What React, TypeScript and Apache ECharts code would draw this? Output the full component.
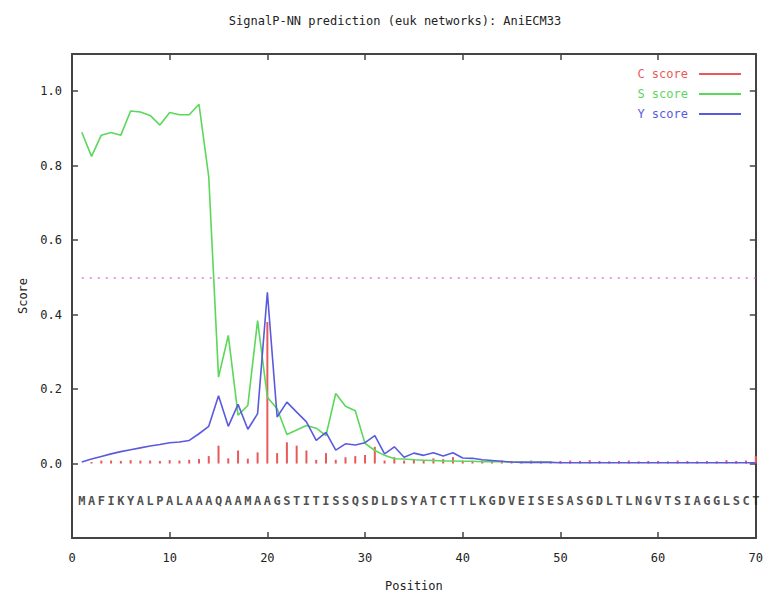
import React, { useEffect, useRef } from "react";
import * as echarts from "echarts";

const titleText = "SignalP-NN prediction (euk networks): AniECM33";
const sequence = "MAFIKYALPALAAAQAAMAAGSTITISSQSDLDSYATCTTLKGDVEISESASGDLTLNGVTSIAGGLSCT";
const xTicks = [0, 10, 20, 30, 40, 50, 60, 70];
const yTickLabels = ["0.0", "0.2", "0.4", "0.6", "0.8", "1.0"];

const cScore = [
  0, 0.004, 0.008, 0.008, 0.007, 0.009, 0.008, 0.008, 0.007, 0.009,
  0.008, 0.01, 0.012, 0.02, 0.048, 0.014, 0.035, 0.013, 0.03, 0.38,
  0.028, 0.057, 0.048, 0.035, 0.01, 0.028, 0.01, 0.017, 0.02, 0.023,
  0.045, 0.008, 0.017, 0.008, 0.012, 0.008, 0.014, 0.012, 0.017, 0.008,
  0.007, 0.008, 0.006, 0.008, 0.007, 0.006, 0.008, 0.007, 0.006, 0.007,
  0.008, 0.007, 0.009, 0.007, 0.006, 0.007, 0.008, 0.006, 0.007, 0.007,
  0.006, 0.008, 0.007, 0.006, 0.007, 0.006, 0.009, 0.007, 0.008, 0.02,
];

const sScore = [
  0.89, 0.825, 0.882, 0.889, 0.882, 0.947, 0.944, 0.935, 0.909, 0.943,
  0.937, 0.937, 0.965, 0.77, 0.232, 0.344, 0.13, 0.156, 0.384, 0.178,
  0.147, 0.078, 0.09, 0.102, 0.095, 0.075, 0.188, 0.154, 0.142, 0.054,
  0.035, 0.022, 0.013, 0.012, 0.01, 0.009, 0.008, 0.007, 0.007, 0.006,
  0.006, 0.005, 0.005, 0.005, 0.004, 0.004, 0.004, 0.004, 0.004,
];

const yScore = [
  0.004, 0.012, 0.019, 0.026, 0.032, 0.037, 0.042, 0.047, 0.051, 0.056,
  0.058, 0.062, 0.08, 0.1, 0.182, 0.1, 0.159, 0.092, 0.134, 0.46,
  0.125, 0.165, 0.138, 0.112, 0.062, 0.084, 0.036, 0.053, 0.05, 0.056,
  0.075, 0.026, 0.045, 0.017, 0.028, 0.022, 0.029, 0.02, 0.029, 0.015,
  0.014, 0.01, 0.008, 0.006, 0.004, 0.003, 0.003, 0.003, 0.003, 0.002,
  0.002, 0.002, 0.002, 0.002, 0.002, 0.002, 0.002, 0.002, 0.002, 0.002,
  0.002, 0.002, 0.002, 0.002, 0.002, 0.002, 0.002, 0.002, 0.002, 0.002,
];

const threshold = 0.5;
const seqRow = -0.1;

const RED = "#e85a5a";
const GREEN = "#5ad85a";
const BLUE = "#5a5ade";
const AXIS = "#444";
const MONO = "'DejaVu Sans Mono', monospace";

export default function App() {
  const ref = useRef<HTMLDivElement>(null);
  useEffect(() => {
    if (!ref.current) return;
    const chart = echarts.init(ref.current, undefined, { renderer: "svg" });
    const fmtY = (v: number) => {
      const s = (Math.round(v * 10) / 10).toFixed(1);
      return yTickLabels.indexOf(s) >= 0 ? s : "";
    };
    const axisCommon = {
      axisLine: { show: true, onZero: false, lineStyle: { color: AXIS, width: 2 } },
      axisTick: { show: true, inside: true, length: 6, lineStyle: { color: AXIS, width: 1.5 } },
      splitLine: { show: false },
    };
    const option: any = {
      animation: false,
      title: {
        text: titleText,
        left: 390,
        top: 10,
        textAlign: "center",
        textStyle: { fontFamily: MONO, fontSize: 12, fontWeight: "normal", color: "#222" },
      },
      legend: {
        orient: "vertical",
        right: 20,
        top: 62,
        align: "right",
        itemWidth: 42,
        itemHeight: 2,
        itemGap: 6,
        icon: "rect",
        selectedMode: false,
        textStyle: { fontFamily: MONO, fontSize: 12, lineHeight: 14, padding: [0, 6, 0, 0] },
        data: [
          { name: "C score", textStyle: { color: RED } },
          { name: "S score", textStyle: { color: GREEN } },
          { name: "Y score", textStyle: { color: BLUE } },
        ],
      },
      grid: { left: 72, right: 6, top: 54, bottom: 57 },
      xAxis: [
        {
          type: "value",
          min: xTicks[0],
          max: xTicks[xTicks.length - 1],
          interval: 10,
          position: "bottom",
          ...axisCommon,
          axisLabel: { margin: 14, fontFamily: MONO, fontSize: 12, color: "#222" },
          name: "Position",
          nameLocation: "middle",
          nameGap: 42,
          nameTextStyle: { fontFamily: MONO, fontSize: 12, color: "#222" },
        },
        {
          type: "value",
          min: xTicks[0],
          max: xTicks[xTicks.length - 1],
          interval: 10,
          position: "top",
          ...axisCommon,
          axisLabel: { show: false },
        },
      ],
      yAxis: [
        {
          type: "value",
          min: -0.2,
          max: 1.1,
          interval: 0.2,
          position: "left",
          ...axisCommon,
          axisLabel: { margin: 10, fontFamily: MONO, fontSize: 12, color: "#222", formatter: fmtY, showMaxLabel: false },
          name: "Score",
          nameLocation: "middle",
          nameGap: 37,
          nameTextStyle: { fontFamily: MONO, fontSize: 12, color: "#222" },
        },
        {
          type: "value",
          min: -0.2,
          max: 1.1,
          interval: 0.2,
          position: "right",
          ...axisCommon,
          axisLabel: { show: false },
        },
      ],
      series: [
        {
          name: "C score",
          type: "bar",
          xAxisIndex: 0,
          yAxisIndex: 0,
          barWidth: 2,
          itemStyle: { color: RED },
          data: cScore.map((v, i) => [i + 1, v]),
        },
        {
          name: "S score",
          type: "line",
          xAxisIndex: 0,
          yAxisIndex: 0,
          symbol: "none",
          itemStyle: { color: GREEN },
          lineStyle: { color: GREEN, width: 1.6 },
          data: sScore.map((v, i) => [i + 1, v]),
          markLine: {
            silent: true,
            symbol: "none",
            label: { show: false },
            lineStyle: { color: "#e060e0", type: [2, 6], width: 1.5, opacity: 0.85 },
            data: [[{ coord: [1, threshold] }, { coord: [70, threshold] }]],
          },
        },
        {
          name: "Y score",
          type: "line",
          xAxisIndex: 0,
          yAxisIndex: 0,
          symbol: "none",
          itemStyle: { color: BLUE },
          lineStyle: { color: BLUE, width: 1.6 },
          data: yScore.map((v, i) => [i + 1, v]),
        },
        {
          name: "sequence",
          type: "scatter",
          xAxisIndex: 0,
          yAxisIndex: 0,
          symbolSize: 1,
          itemStyle: { color: "rgba(0,0,0,0)" },
          silent: true,
          label: {
            show: true,
            position: "inside",
            formatter: (p: any) => sequence[p.dataIndex],
            fontFamily: MONO,
            fontSize: 12,
            fontWeight: "bold",
            color: "#222",
          },
          data: sequence.split("").map((_, i) => [i + 1, seqRow]),
        },
      ],
    };
    chart.setOption(option);
    return () => chart.dispose();
  }, []);
  return (
    <div
      ref={ref}
      style={{ position: "fixed", left: 0, top: 0, width: 766, height: 597, background: "#fff" }}
    />
  );
}
